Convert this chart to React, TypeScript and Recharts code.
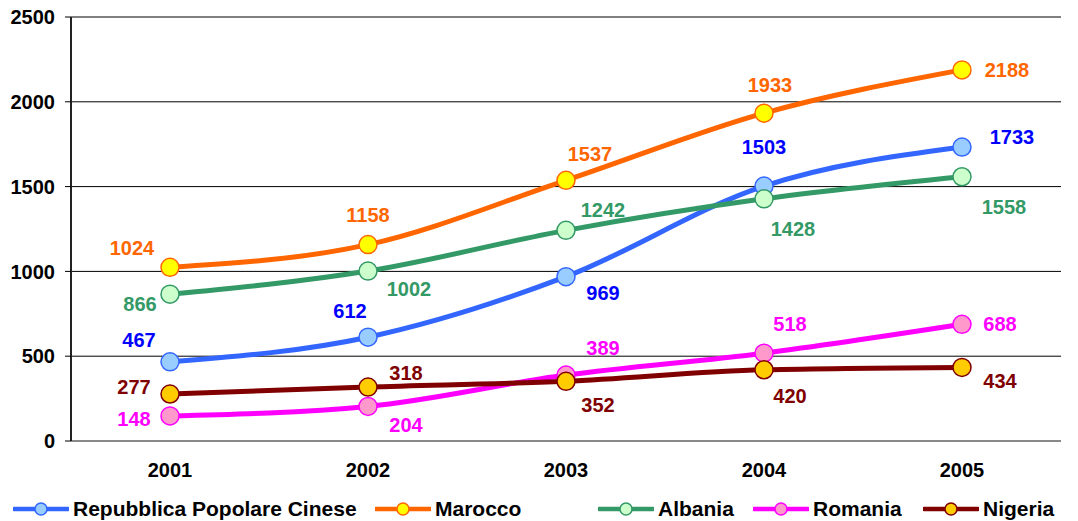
import React from "react";
import {
  LineChart,
  Line,
  XAxis,
  YAxis,
  CartesianGrid,
  Legend,
  LabelList,
} from "recharts";

const years = ["2001", "2002", "2003", "2004", "2005"];
const cina = [467, 612, 969, 1503, 1733];
const marocco = [1024, 1158, 1537, 1933, 2188];
const albania = [866, 1002, 1242, 1428, 1558];
const romania = [148, 204, 389, 518, 688];
const nigeria = [277, 318, 352, 420, 434];
const yTicks = [0, 500, 1000, 1500, 2000, 2500];

const FONT = '"Liberation Sans", Arial, sans-serif';

type Series = {
  key: string;
  name: string;
  line: string;
  fill: string;
  text: string;
  // label offsets from the point, in px
  offsets: [number, number][];
};

const series: Series[] = [
  {
    key: "cina",
    name: "Repubblica Popolare Cinese",
    line: "#3366FF",
    fill: "#99CCFF",
    text: "#0000FF",
    offsets: [[-31, -22], [-18, -26], [37, 16], [0, -39], [50, -10]],
  },
  {
    key: "marocco",
    name: "Marocco",
    line: "#FF6600",
    fill: "#FFFF00",
    text: "#FF6600",
    offsets: [[-38, -19], [0, -30], [24, -26], [6, -28], [45, 0]],
  },
  {
    key: "albania",
    name: "Albania",
    line: "#339966",
    fill: "#CCFFCC",
    text: "#339966",
    offsets: [[-30, 10], [41, 18], [37, -20], [29, 30], [42, 30]],
  },
  {
    key: "romania",
    name: "Romania",
    line: "#FF00FF",
    fill: "#FF99CC",
    text: "#FF00FF",
    offsets: [[-36, 3], [38, 19], [37, -27], [26, -29], [38, 0]],
  },
  {
    key: "nigeria",
    name: "Nigeria",
    line: "#800000",
    fill: "#FFCC00",
    text: "#800000",
    offsets: [[-36, -7], [38, -14], [32, 24], [26, 26], [38, 14]],
  },
];

const data = years.map((year, i) => ({
  year,
  cina: cina[i],
  marocco: marocco[i],
  albania: albania[i],
  romania: romania[i],
  nigeria: nigeria[i],
}));

// left edge of each legend item
const legendX = [13, 375, 598, 753, 923];

function renderLegend() {
  return (
    <div style={{ position: "relative", width: 1078, height: 40 }}>
      {series.map((s, i) => (
        <div
          key={s.key}
          style={{
            position: "absolute",
            left: legendX[i],
            top: 16,
            display: "flex",
            alignItems: "center",
            fontFamily: FONT,
            fontWeight: "bold",
            fontSize: 21,
            color: "#000",
            whiteSpace: "nowrap",
          }}
        >
          <svg width={56} height={16} style={{ marginRight: 4 }}>
            <line x1={1} y1={8} x2={55} y2={8} stroke={s.line} strokeWidth={4.5} strokeLinecap="round" />
            <circle cx={28} cy={8} r={6} fill={s.fill} stroke={s.line} strokeWidth={1.5} />
          </svg>
          <span>{s.name}</span>
        </div>
      ))}
    </div>
  );
}

function makeLabel(s: Series) {
  return (props: any) => {
    const { x, y, value, index } = props;
    const [dx, dy] = s.offsets[index] || [0, -20];
    return (
      <text
        x={x + dx}
        y={y + dy}
        textAnchor="middle"
        dominantBaseline="central"
        fill={s.text}
        fontFamily={FONT}
        fontWeight="bold"
        fontSize={20}
      >
        {value}
      </text>
    );
  };
}

export default function App() {
  return (
    <div style={{ position: "absolute", left: 0, top: 0, width: 1078, height: 521, background: "#fff" }}>
      <LineChart
        width={1078}
        height={521}
        data={data}
        margin={{ top: 17, right: 17, left: 0, bottom: 0 }}
      >
        <CartesianGrid vertical={false} stroke="#000" strokeWidth={1} />
        <XAxis
          xAxisId="edges"
          type="number"
          domain={[0, 5]}
          ticks={[0, 1, 2, 3, 4, 5]}
          allowDataOverflow
          tick={false}
          tickSize={6}
          tickLine={{ stroke: "#555" }}
          axisLine={false}
          height={0}
        />
        <XAxis
          dataKey="year"
          scale="band"
          tickLine={false}
          tickSize={0}
          tickMargin={22}
          axisLine={{ stroke: "#888", strokeWidth: 2 }}
          height={40}
          tick={{ fill: "#000", fontFamily: FONT, fontWeight: "bold", fontSize: 20 }}
        />
        <YAxis
          domain={[0, 2500]}
          ticks={yTicks}
          width={71}
          tickSize={6}
          tickMargin={10}
          tickLine={{ stroke: "#000" }}
          axisLine={{ stroke: "#222", strokeWidth: 2 }}
          tick={{ fill: "#000", fontFamily: FONT, fontWeight: "bold", fontSize: 20 }}
        />
        <YAxis
          yAxisId="frame"
          orientation="right"
          domain={[0, 2500]}
          width={0}
          tick={false}
          tickLine={false}
          axisLine={{ stroke: "#888", strokeWidth: 2 }}
        />
        {series.map((s) => (
          <Line
            key={s.key}
            dataKey={s.key}
            name={s.name}
            type="monotone"
            stroke={s.line}
            strokeWidth={5}
            dot={{ r: 9, fill: s.fill, stroke: s.line, strokeWidth: 1.5 }}
            activeDot={false}
            isAnimationActive={false}
          >
            <LabelList dataKey={s.key} content={makeLabel(s)} />
          </Line>
        ))}
        <Legend
          verticalAlign="bottom"
          content={renderLegend}
          wrapperStyle={{ left: 0, bottom: 0, width: 1078, height: 40 }}
        />
      </LineChart>
    </div>
  );
}
